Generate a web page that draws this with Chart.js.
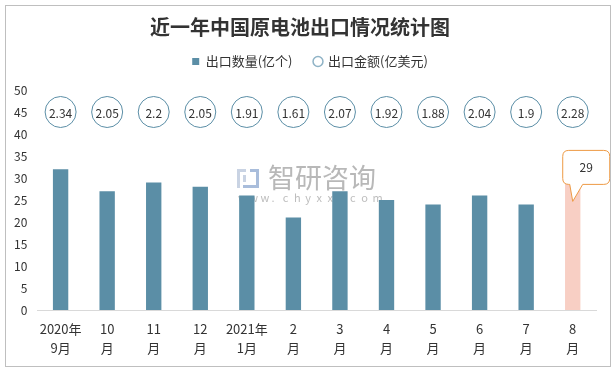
<!DOCTYPE html>
<html lang="zh">
<head>
<meta charset="utf-8">
<script src="https://cdn.jsdelivr.net/npm/chart.js@4"></script>
<style>
    html, body { margin: 0; padding: 0; background: #ffffff; }
    #wrap { position: relative; width: 616px; height: 371px; }
</style>
</head>
<body>
<div id="wrap"><canvas id="chart" width="616" height="371"></canvas></div>
<script>
// Dados do gráfico
const months = [
    ['2020年', '9月'], ['10', '月'], ['11', '月'], ['12', '月'],
    ['2021年', '1月'], ['2', '月'], ['3', '月'], ['4', '月'],
    ['5', '月'], ['6', '月'], ['7', '月'], ['8', '月']
];
const exportQty = [32, 27, 29, 28, 26, 21, 27, 25, 24, 26, 24, 29];      // 亿个
const exportValue = [2.34, 2.05, 2.2, 2.05, 1.91, 1.61, 2.07, 1.92, 1.88, 2.04, 1.9, 2.28]; // 亿美元
const amountRow = 45;  // linha onde ficam os círculos de valor
const yTicks = { min: 0, max: 50, step: 5 };

const BAR_COLOR = '#5b8ea6';
const LAST_COLOR = '#f8cfc4';
const RING_COLOR = '#5b8ea6';
const TEXT = '#333333';
const FONT = '"Microsoft YaHei", "Noto Sans CJK SC", "DejaVu Sans", sans-serif';

// Espaço extra abaixo da legenda e deslocamento horizontal
const legendGapPlugin = {
    id: 'legendGap',
    beforeInit(chart) {
        const originalFit = chart.legend.fit;
        chart.legend.fit = function fit() {
            originalFit.bind(chart.legend)();
            this.height += 12;
        };
    },
    afterLayout(chart) {
        chart.legend.left += 10;
        chart.legend.right += 10;
    }
};

// Borda externa, marca d'água, rótulos dos círculos e balão do último valor
const decorPlugin = {
    id: 'decor',
    beforeDatasetsDraw(chart) {
        const ctx = chart.ctx;
        ctx.save();
        // logotipo simplificado
        ctx.fillStyle = '#c9d3e3';
        ctx.fillRect(237, 169, 9, 3);
        ctx.fillRect(237, 169, 3, 19);
        ctx.fillRect(243, 175, 3, 7);
        ctx.fillStyle = '#a9bddb';
        ctx.fillRect(250, 169, 9, 3);
        ctx.fillRect(256, 169, 3, 19);
        ctx.fillRect(243, 185, 16, 3);
        ctx.fillStyle = '#b8b8b8';
        ctx.font = '27px ' + FONT;
        ctx.textBaseline = 'middle';
        ctx.textAlign = 'left';
        ctx.fillText('智研咨询', 268, 178);
        ctx.font = '11px ' + FONT;
        ctx.fillStyle = '#bdbdbd';
        const site = 'www.chyxx.com';
        for (let i = 0; i < site.length; i++) {
            ctx.fillText(site[i], 238 + i * 11.2, 198);
        }
        ctx.restore();
    },
    afterDatasetsDraw(chart) {
        const ctx = chart.ctx;
        ctx.save();
        // valores dentro dos círculos
        const ringMeta = chart.getDatasetMeta(1);
        ctx.font = '12px ' + FONT;
        ctx.fillStyle = TEXT;
        ctx.textAlign = 'center';
        ctx.textBaseline = 'middle';
        ringMeta.data.forEach((pt, i) => {
            ctx.fillText(String(exportValue[i]), pt.x, pt.y + 1);
        });

        // balão do último mês
        const barMeta = chart.getDatasetMeta(0);
        const last = barMeta.data[barMeta.data.length - 1];
        const bx = last.x - 10, by = last.y - 32, bw = 47, bh = 34, r = 6;
        const tipX = last.x, tipY = last.y + 19;
        ctx.beginPath();
        ctx.moveTo(bx + r, by);
        ctx.lineTo(bx + bw - r, by);
        ctx.quadraticCurveTo(bx + bw, by, bx + bw, by + r);
        ctx.lineTo(bx + bw, by + bh - r);
        ctx.quadraticCurveTo(bx + bw, by + bh, bx + bw - r, by + bh);
        ctx.lineTo(bx + 20, by + bh);
        ctx.lineTo(tipX, tipY);
        ctx.lineTo(bx + 7, by + bh);
        ctx.lineTo(bx + r, by + bh);
        ctx.quadraticCurveTo(bx, by + bh, bx, by + bh - r);
        ctx.lineTo(bx, by + r);
        ctx.quadraticCurveTo(bx, by, bx + r, by);
        ctx.closePath();
        ctx.fillStyle = '#ffffff';
        ctx.fill();
        ctx.strokeStyle = '#ed9a45';
        ctx.lineWidth = 1;
        ctx.stroke();
        ctx.fillStyle = TEXT;
        ctx.fillText(String(exportQty[exportQty.length - 1]), bx + bw / 2, by + bh / 2);
        ctx.restore();
    },
    afterDraw(chart) {
        const ctx = chart.ctx;
        ctx.save();
        ctx.strokeStyle = '#bfbfbf';
        ctx.lineWidth = 1;
        ctx.strokeRect(5.5, 5.5, 605, 361);
        ctx.restore();
    }
};

const ctx = document.getElementById('chart').getContext('2d');
new Chart(ctx, {
    type: 'bar',
    data: {
        labels: months,
        datasets: [{
            label: '出口数量(亿个)',
            data: exportQty,
            backgroundColor: exportQty.map((v, i) => i === exportQty.length - 1 ? LAST_COLOR : BAR_COLOR),
            barPercentage: 0.66,
            categoryPercentage: 0.5,
            order: 2
        }, {
            type: 'line',
            label: '出口金额(亿美元)',
            data: exportValue.map(() => amountRow),
            showLine: false,
            pointStyle: 'circle',
            pointRadius: 15.5,
            pointBackgroundColor: '#ffffff',
            pointBorderColor: RING_COLOR,
            pointBorderWidth: 1,
            order: 1
        }]
    },
    options: {
        responsive: false,
        animation: false,
        devicePixelRatio: 1,
        layout: { padding: { left: 4, right: 20, top: 12, bottom: 4 } },
        plugins: {
            title: {
                display: true,
                text: '近一年中国原电池出口情况统计图',
                color: TEXT,
                font: { family: FONT, size: 20, weight: 'bold' },
                padding: { top: 3, bottom: -6 }
            },
            legend: {
                position: 'top',
                labels: {
                    color: TEXT,
                    font: { family: FONT, size: 13 },
                    usePointStyle: true,
                    boxWidth: 7,
                    boxHeight: 7,
                    padding: 22,
                    generateLabels() {
                        return [{
                            text: '出口数量(亿个)', pointStyle: 'rect',
                            fillStyle: BAR_COLOR, strokeStyle: BAR_COLOR, lineWidth: 0,
                            fontColor: TEXT, datasetIndex: 0
                        }, {
                            text: '出口金额(亿美元)', pointStyle: 'circle',
                            fillStyle: '#ffffff', strokeStyle: '#8fb3c6', lineWidth: 1.5,
                            fontColor: TEXT, datasetIndex: 1
                        }];
                    }
                }
            },
            tooltip: { enabled: false }
        },
        scales: {
            x: {
                grid: { display: false, drawTicks: false },
                border: { color: '#d9d9d9' },
                ticks: {
                    color: TEXT,
                    font: { family: FONT, size: 13, lineHeight: 1.5 },
                    maxRotation: 0,
                    autoSkip: false,
                    padding: 9
                }
            },
            y: {
                min: yTicks.min,
                max: yTicks.max,
                grid: { display: false, drawTicks: false },
                border: { display: false },
                ticks: {
                    stepSize: yTicks.step,
                    color: TEXT,
                    font: { family: FONT, size: 12 },
                    padding: 10
                }
            }
        }
    },
    plugins: [legendGapPlugin, decorPlugin]
});
</script>
</body>
</html>
